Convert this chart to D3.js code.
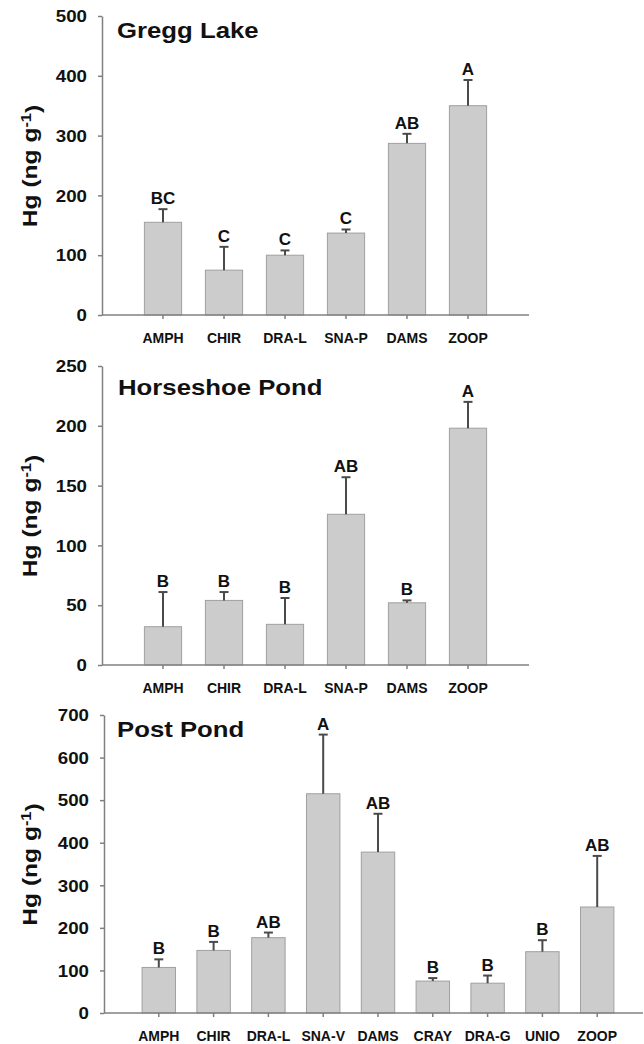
<!DOCTYPE html>
<html>
  <head>
    <meta charset="utf-8">
    <style>
      body {
          margin: 0;
          background: #fff;
          font-family: "Liberation Sans", Arial, sans-serif;
      }
      text {
          font-weight: bold;
          fill: #111;
      }
      .axis path, .axis line {
          stroke: #808080;
          stroke-width: 1.5;
      }
      .bar {
          fill: #cccccc;
          stroke: #a0a0a0;
          stroke-width: 1;
      }
      .err {
          stroke: #4a4a4a;
          stroke-width: 2;
      }
    </style>
  </head>
  <body>
    <script src="https://d3js.org/d3.v7.min.js"></script>
    <script>
      // Gregg Lake
      var greggCats = ["AMPH", "CHIR", "DRA-L", "SNA-P", "DAMS", "ZOOP"];
      var greggMean = [155, 75, 100, 137, 287, 350];
      var greggSE = [22, 39, 8, 6, 16, 43];
      var greggLetters = ["BC", "C", "C", "C", "AB", "A"];
      var greggTicks = [0, 100, 200, 300, 400, 500];

      // Horseshoe Pond
      var horseCats = ["AMPH", "CHIR", "DRA-L", "SNA-P", "DAMS", "ZOOP"];
      var horseMean = [32, 54, 34, 126, 52, 198];
      var horseSE = [29, 7, 22, 31, 2, 22];
      var horseLetters = ["B", "B", "B", "AB", "B", "A"];
      var horseTicks = [0, 50, 100, 150, 200, 250];

      // Post Pond
      var postCats = ["AMPH", "CHIR", "DRA-L", "SNA-V", "DAMS", "CRAY", "DRA-G", "UNIO", "ZOOP"];
      var postMean = [107, 147, 177, 515, 378, 75, 70, 144, 249];
      var postSE = [19, 20, 12, 139, 90, 7, 18, 27, 120];
      var postLetters = ["B", "B", "AB", "A", "AB", "B", "B", "B", "AB"];
      var postTicks = [0, 100, 200, 300, 400, 500, 600, 700];

      // panel layout (pixels)
      var panels = [
        {title: "Gregg Lake", cats: greggCats, mean: greggMean, se: greggSE, letters: greggLetters, ticks: greggTicks,
         top: 16, bottom: 315, left: 102, right: 529, axisEnd: 529, titleX: 117, titleY: 38},
        {title: "Horseshoe Pond", cats: horseCats, mean: horseMean, se: horseSE, letters: horseLetters, ticks: horseTicks,
         top: 366, bottom: 665, left: 102, right: 529, axisEnd: 529, titleX: 118, titleY: 395},
        {title: "Post Pond", cats: postCats, mean: postMean, se: postSE, letters: postLetters, ticks: postTicks,
         top: 715, bottom: 1013, left: 104, right: 652, axisEnd: 643, titleX: 117, titleY: 737}
      ];

      // the original figure is a little wider than tall
      var stretch = 1.17;

      var svg = d3.select("body").append("svg")
          .attr("width", 644)
          .attr("height", 1044);

      panels.forEach(function(p) {
        var g = svg.append("g");

        var y = d3.scaleLinear()
            .domain([0, d3.max(p.ticks)])
            .range([p.bottom, p.top]);

        var x = d3.scaleBand()
            .domain(p.cats)
            .range([p.left, p.right])
            .paddingInner(0.39)
            .paddingOuter(0.695);

        // bars
        g.selectAll(".bar")
            .data(p.cats)
            .enter().append("rect")
            .attr("class", "bar")
            .attr("x", function(d) { return x(d); })
            .attr("width", x.bandwidth())
            .attr("y", function(d, i) { return y(p.mean[i]); })
            .attr("height", function(d, i) { return y(0) - y(p.mean[i]); });

        // error bars (upper only)
        var cap = 4.5;
        var eb = g.selectAll(".eb")
            .data(p.cats)
            .enter().append("g");
        eb.append("line")
            .attr("class", "err")
            .attr("x1", function(d) { return x(d) + x.bandwidth() / 2; })
            .attr("x2", function(d) { return x(d) + x.bandwidth() / 2; })
            .attr("y1", function(d, i) { return y(p.mean[i]); })
            .attr("y2", function(d, i) { return y(p.mean[i] + p.se[i]); });
        eb.append("line")
            .attr("class", "err")
            .attr("x1", function(d) { return x(d) + x.bandwidth() / 2 - cap; })
            .attr("x2", function(d) { return x(d) + x.bandwidth() / 2 + cap; })
            .attr("y1", function(d, i) { return y(p.mean[i] + p.se[i]); })
            .attr("y2", function(d, i) { return y(p.mean[i] + p.se[i]); });

        // significance letters
        g.selectAll(".letter")
            .data(p.cats)
            .enter().append("text")
            .attr("x", function(d) { return x(d) + x.bandwidth() / 2; })
            .attr("y", function(d, i) { return y(p.mean[i] + p.se[i]) - 5; })
            .attr("text-anchor", "middle")
            .style("font-size", "17px")
            .text(function(d, i) { return p.letters[i]; });

        // y axis
        var yAxis = g.append("g")
            .attr("class", "axis")
            .attr("transform", "translate(" + p.left + ",0)")
            .call(d3.axisLeft(y).tickValues(p.ticks).tickSize(4).tickSizeOuter(0));
        yAxis.selectAll("text")
            .attr("x", null)
            .attr("dy", "0.36em")
            .attr("transform", "translate(-15,0) scale(" + stretch + ",1)")
            .style("font-size", "16px")
            .style("font-family", "'Liberation Sans', Arial, sans-serif")
            .attr("fill", "#111");

        // x axis
        var xAxis = g.append("g")
            .attr("class", "axis")
            .attr("transform", "translate(0," + p.bottom + ")")
            .call(d3.axisBottom(x).tickSize(4).tickPadding(14).tickSizeOuter(0));
        xAxis.select(".domain")
            .attr("d", "M" + p.left + ",0H" + p.axisEnd);
        xAxis.selectAll("text")
            .style("font-size", "14px")
            .style("font-family", "'Liberation Sans', Arial, sans-serif")
            .attr("fill", "#111");

        // panel title
        g.append("text")
            .attr("transform", "translate(" + p.titleX + "," + p.titleY + ") scale(" + stretch + ",1)")
            .style("font-size", "22px")
            .text(p.title);

        // y axis title
        var yt = g.append("text")
            .attr("transform", "translate(37," + ((p.top + p.bottom) / 2 + 0.5) + ") rotate(-90) scale(" + stretch + ",1)")
            .attr("text-anchor", "middle")
            .style("font-size", "21px");
        yt.append("tspan").text("Hg (ng g");
        yt.append("tspan").attr("dy", "-0.45em").style("font-size", "14px").text("-1");
        yt.append("tspan").attr("dy", "0.45em").text(")");
      });
    </script>
  </body>
</html>
